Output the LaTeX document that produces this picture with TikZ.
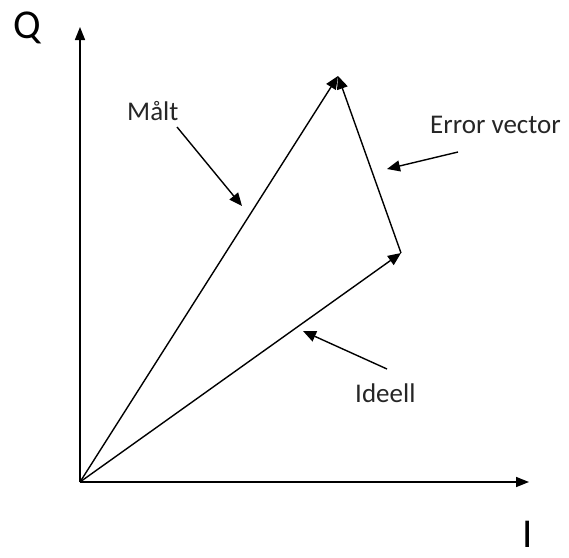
\documentclass[tikz,border=0pt]{standalone}
\usepackage{fontspec}
\setmainfont{Carlito}
\usetikzlibrary{arrows.meta}
\tikzset{
  axis/.style={line width=1.6pt,-{Triangle[length=13pt,width=10pt]}},
  vec/.style={line width=1.4pt,-{Triangle[length=13pt,width=11pt]}},
  pointer/.style={line width=1.4pt,-{Triangle[length=13pt,width=11pt]}},
  lbl/.style={inner sep=0pt,anchor=base west,font=\fontsize{27}{32}\selectfont,text=black!85},
  axlbl/.style={inner sep=0pt,anchor=base,font=\fontsize{41}{48}\selectfont,text=black}
}
\begin{document}
\begin{tikzpicture}[x=1pt,y=-1pt]
\useasboundingbox (0,0) rectangle (569,557);
\coordinate (O) at (80,482);
\coordinate (Qtip) at (80,27);
\coordinate (Itip) at (529,482);
\coordinate (M) at (338,76);
\coordinate (E) at (401,253);
\draw[axis] (O) -- (Qtip);
\draw[axis] (O) -- (Itip);
\draw[vec] (O) -- (M);
\draw[vec] (O) -- (E);
\draw[vec] (E) -- (M);
\node[axlbl] (qlab) at (27,38) {Q};
\node[axlbl] (ilab) at (528,547) {I};
\node[lbl] (malt) at (127,120) {Målt};
\node[lbl] (err) at (430,133) {Error vector};
\node[lbl] (ideell) at (355,402) {Ideell};
\coordinate (m1) at (177,127);
\coordinate (m2) at (242,206);
\coordinate (e1) at (458,152);
\coordinate (e2) at (387,169);
\coordinate (i1) at (387,369);
\coordinate (i2) at (303,331);
\draw[pointer] (m1) -- (m2);
\draw[pointer] (e1) -- (e2);
\draw[pointer] (i1) -- (i2);
\end{tikzpicture}
\end{document}
